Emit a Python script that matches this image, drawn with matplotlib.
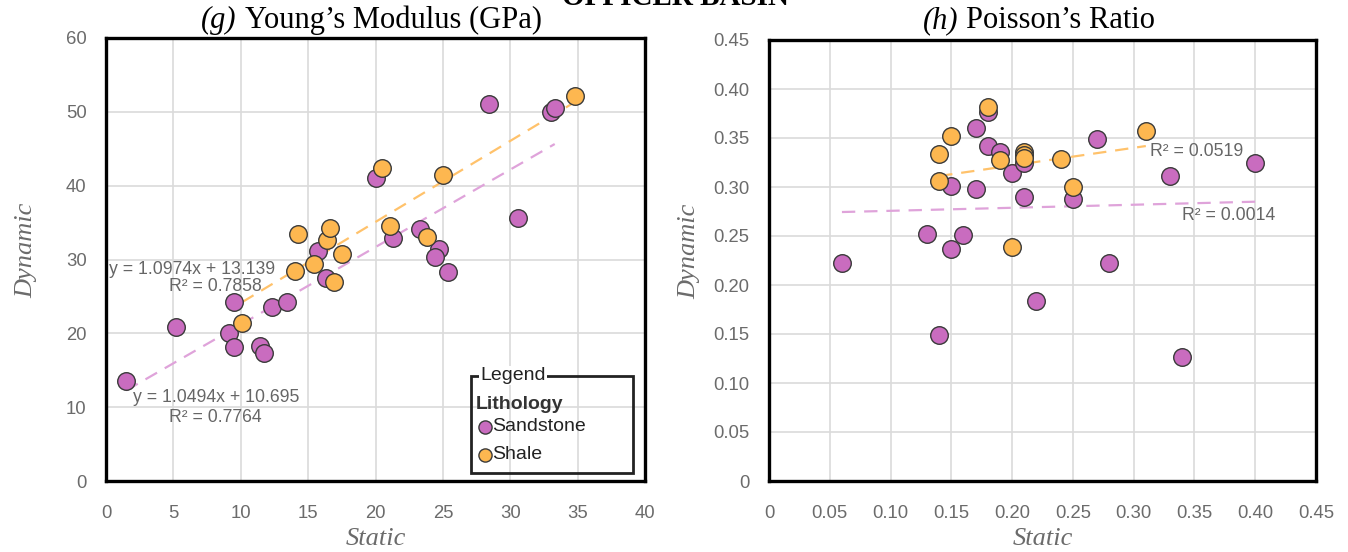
import matplotlib
matplotlib.use("Agg")
import matplotlib.pyplot as plt
import numpy as np
from matplotlib.patches import Rectangle

# ---------------- data ----------------
# (g) Young's modulus (GPa)
ym_sand_static = [1.5, 5.2, 9.5, 9.1, 9.5, 11.4, 11.7, 12.3, 13.4, 15.7, 16.3, 20.0, 21.3, 23.3, 24.7, 24.4, 25.4, 28.4, 30.6, 33.0, 33.3]
ym_sand_dynamic = [13.6, 20.8, 24.2, 20.1, 18.1, 18.3, 17.4, 23.5, 24.2, 31.1, 27.5, 41.0, 32.9, 34.1, 31.4, 30.3, 28.3, 51.1, 35.6, 50.0, 50.5]
ym_shale_static = [10.1, 14.25, 14.0, 15.4, 16.4, 16.6, 16.9, 17.5, 20.5, 21.1, 23.8, 25.0, 34.8]
ym_shale_dynamic = [21.4, 33.4, 28.4, 29.4, 32.6, 34.3, 26.9, 30.8, 42.4, 34.5, 33.0, 41.4, 52.1]
ym_sand_fit = (1.0494, 10.695)
ym_shale_fit = (1.0974, 13.139)

# (h) Poisson's ratio
pr_sand_static = [0.06, 0.13, 0.15, 0.16, 0.14, 0.15, 0.17, 0.17, 0.18, 0.18, 0.19, 0.20, 0.21, 0.21, 0.22, 0.25, 0.27, 0.28, 0.33, 0.34, 0.40]
pr_sand_dynamic = [0.222, 0.252, 0.237, 0.251, 0.149, 0.301, 0.298, 0.360, 0.377, 0.342, 0.336, 0.314, 0.325, 0.290, 0.184, 0.288, 0.349, 0.222, 0.311, 0.127, 0.324]
pr_shale_static = [0.14, 0.14, 0.15, 0.18, 0.19, 0.21, 0.21, 0.21, 0.24, 0.25, 0.20, 0.31]
pr_shale_dynamic = [0.334, 0.306, 0.352, 0.382, 0.328, 0.336, 0.333, 0.330, 0.329, 0.300, 0.239, 0.357]
pr_sand_fit = (0.031, 0.2726)
pr_shale_fit = (0.18, 0.286)

ym_xticks = [0, 5, 10, 15, 20, 25, 30, 35, 40]
ym_yticks = [0, 10, 20, 30, 40, 50, 60]
pr_xticks = [0, 0.05, 0.10, 0.15, 0.20, 0.25, 0.30, 0.35, 0.40, 0.45]
pr_xticklabels = ["0", "0.05", "0.10", "0.15", "0.20", "0.25", "0.30", "0.35", "0.40", "0.45"]
pr_yticks = [0, 0.05, 0.10, 0.15, 0.20, 0.25, 0.30, 0.35, 0.40, 0.45]
pr_yticklabels = ["0", "0.05", "0.10", "0.15", "0.20", "0.25", "0.30", "0.35", "0.40", "0.45"]

# ---------------- style ----------------
SAND = "#C96CBF"
SHALE = "#FDB750"
SAND_LINE = "#DFA3DA"
SHALE_LINE = "#FFC26B"
EDGE = "#3a3a3a"
GRID = "#DADADA"
TICK = "#6b6b6b"
ANNOT = "#666666"
SERIF = "Liberation Serif"
SANS = "Liberation Sans"

W, H = 1348, 552
fig = plt.figure(figsize=(W / 100, H / 100), dpi=100)

def fx(px):
    return px / W

def fy(py):
    return 1 - py / H

ax1 = fig.add_axes([fx(106), fy(481), fx(645) - fx(106), fy(38) - fy(481)])
ax2 = fig.add_axes([fx(769), fy(481), fx(1316) - fx(769), fy(40) - fy(481)])

def style_axes(ax, xlim, ylim, xticks, yticks, xlabels=None, ylabels=None):
    ax.set_xlim(*xlim)
    ax.set_ylim(*ylim)
    ax.set_xticks(xticks)
    ax.set_yticks(yticks)
    if xlabels is not None:
        ax.set_xticklabels(xlabels)
    if ylabels is not None:
        ax.set_yticklabels(ylabels)
    ax.grid(True, color=GRID, linewidth=1.2)
    ax.set_axisbelow(True)
    for s in ax.spines.values():
        s.set_linewidth(2.4)
        s.set_color("black")
    ax.tick_params(axis="both", length=0, labelsize=13.3, labelcolor=TICK)
    ax.tick_params(axis="x", pad=17)
    ax.tick_params(axis="y", pad=14)
    for lab in ax.get_xticklabels() + ax.get_yticklabels():
        lab.set_fontfamily(SANS)
    bb = ax.get_position()
    wpx = bb.width * W
    hpx = bb.height * H
    ax.set_xlabel("Static", fontfamily=SERIF, fontstyle="italic", fontsize=19, color=TICK)
    ax.set_ylabel("Dynamic", fontfamily=SERIF, fontstyle="italic", fontsize=19, color=TICK)
    ax.xaxis.set_label_coords(0.5, -58 / hpx)
    ax.xaxis.label.set_va("center")
    ax.yaxis.set_label_coords(-80 / wpx, 0.52)
    ax.yaxis.label.set_va("center")

style_axes(ax1, (0, 40), (0, 60), ym_xticks, ym_yticks)
style_axes(ax2, (0, 0.45), (0, 0.45), pr_xticks, pr_yticks, pr_xticklabels, pr_yticklabels)

def trend(ax, xs, fit, color):
    xs = np.array([min(xs), max(xs)])
    ax.plot(xs, fit[0] * xs + fit[1], color=color, lw=1.6, ls=(0, (6, 4)), zorder=2)

# Young's modulus
trend(ax1, ym_sand_static, ym_sand_fit, SAND_LINE)
trend(ax1, ym_shale_static, ym_shale_fit, SHALE_LINE)
ax1.scatter(ym_sand_static, ym_sand_dynamic, s=160, color=SAND, edgecolor=EDGE, linewidth=1, zorder=3)
ax1.scatter(ym_shale_static, ym_shale_dynamic, s=160, color=SHALE, edgecolor=EDGE, linewidth=1, zorder=3)

afs = 12.7
ax1.text(0.2, 28.6, "y = 1.0974x + 13.139", fontfamily=SANS, fontsize=afs, color=ANNOT, ha="left", va="center")
ax1.text(8.1, 26.4, "R² = 0.7858", fontfamily=SANS, fontsize=afs, color=ANNOT, ha="center", va="center")
ax1.text(2.0, 11.3, "y = 1.0494x + 10.695", fontfamily=SANS, fontsize=afs, color=ANNOT, ha="left", va="center")
ax1.text(8.1, 8.6, "R² = 0.7764", fontfamily=SANS, fontsize=afs, color=ANNOT, ha="center", va="center")

# legend box (axes fraction coordinates)
t = ax1.transAxes
ax1.add_patch(Rectangle((0.678, 0.019), 0.30, 0.218, transform=t, fill=False, edgecolor="#222222", lw=2.0, zorder=5))
ax1.text(0.695, 0.238, "Legend", transform=t, fontfamily=SANS, fontsize=14, color="#222222", ha="left", va="center",
         bbox=dict(facecolor="white", edgecolor="none", pad=0.8), zorder=6)
ax1.text(0.686, 0.172, "Lithology", transform=t, fontfamily=SANS, fontweight="bold", fontsize=14, color="#333333", ha="left", va="center", zorder=6)
ax1.scatter([0.703], [0.122], transform=t, s=90, color=SAND, edgecolor=EDGE, linewidth=1, zorder=6, clip_on=False)
ax1.text(0.716, 0.122, "Sandstone", transform=t, fontfamily=SANS, fontsize=14, color="#222222", ha="left", va="center", zorder=6)
ax1.scatter([0.703], [0.059], transform=t, s=90, color=SHALE, edgecolor=EDGE, linewidth=1, zorder=6, clip_on=False)
ax1.text(0.716, 0.059, "Shale", transform=t, fontfamily=SANS, fontsize=14, color="#222222", ha="left", va="center", zorder=6)

# Poisson's ratio
trend(ax2, pr_sand_static, pr_sand_fit, SAND_LINE)
trend(ax2, pr_shale_static, pr_shale_fit, SHALE_LINE)
ax2.scatter(pr_sand_static, pr_sand_dynamic, s=160, color=SAND, edgecolor=EDGE, linewidth=1, zorder=3)
ax2.scatter(pr_shale_static, pr_shale_dynamic, s=160, color=SHALE, edgecolor=EDGE, linewidth=1, zorder=3)
ax2.text(0.3135, 0.336, "R² = 0.0519", fontfamily=SANS, fontsize=afs, color=ANNOT, ha="left", va="center")
ax2.text(0.340, 0.271, "R² = 0.0014", fontfamily=SANS, fontsize=afs, color=ANNOT, ha="left", va="center")

# titles
def two_part_title(x_px, y_px, italic_part, rest):
    t1 = fig.text(fx(x_px), fy(y_px), italic_part, fontfamily=SERIF, fontstyle="italic", fontsize=22, ha="left", va="baseline")
    fig.canvas.draw()
    bb = t1.get_window_extent()
    fig.text(bb.x1 / W + fx(8), fy(y_px), rest, fontfamily=SERIF, fontsize=22, ha="left", va="baseline")

two_part_title(201, 28, "(g)", "Young\u2019s Modulus (GPa)")
two_part_title(923, 28, "(h)", "Poisson\u2019s Ratio")

fig.text(fx(675), fy(5), "OFFICER BASIN", fontfamily=SERIF, fontweight="bold", fontsize=21, ha="center", va="baseline")

fig.savefig("out.png", dpi=100)
